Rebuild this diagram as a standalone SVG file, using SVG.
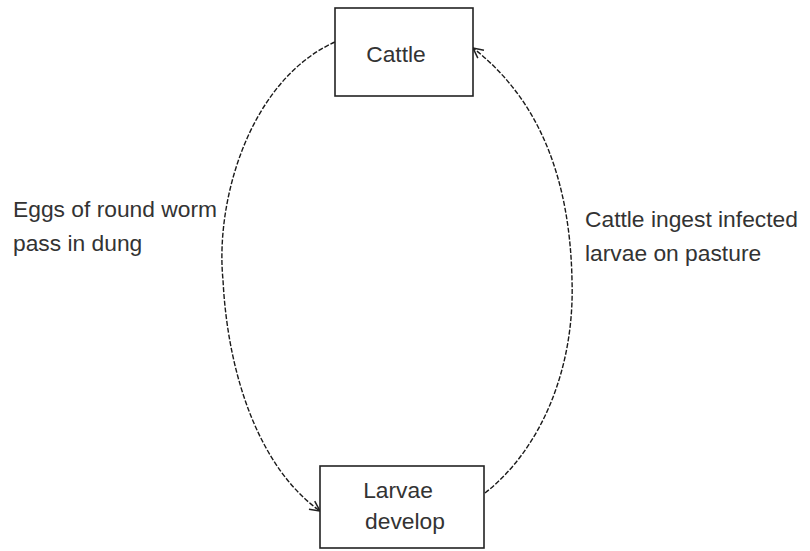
<svg xmlns="http://www.w3.org/2000/svg" width="810" height="551" viewBox="0 0 810 551">
<style>
.box{fill:#fff;stroke:#222;stroke-width:1.6}
.t{font-family:"Liberation Sans",Arial,sans-serif;font-size:22.8px;fill:#333}
.c{fill:none;stroke:#1a1a1a;stroke-width:1.4;stroke-dasharray:5 1.8}
</style>
<defs>
<marker id="ah" viewBox="0 0 12 12" refX="11" refY="6" markerWidth="12" markerHeight="12" markerUnits="userSpaceOnUse" orient="auto">
<path d="M1,1 L11,6 L1,11" fill="none" stroke="#222" stroke-width="1.5"/>
</marker>
</defs>
<rect width="810" height="551" fill="#fff"/>
<g id="connectors">
<path class="c" d="M335,42 C250,80 215,200 223,280 C228,380 262,470 320,511" marker-end="url(#ah)"/>
<path class="c" d="M485,493 C540,450 575,370 572,280 C570,180 540,100 473,48" marker-end="url(#ah)"/>
</g>
<g id="cattle">
<rect class="box" x="335" y="8" width="138" height="88"/>
<text class="t" x="396" y="62" text-anchor="middle">Cattle</text>
</g>
<g id="larvae">
<rect class="box" x="320" y="466" width="164" height="82"/>
<text class="t" x="398" y="498" text-anchor="middle">Larvae</text>
<text class="t" x="405" y="529" text-anchor="middle">develop</text>
</g>
<g id="label-left">
<text class="t" x="13" y="217">Eggs of round worm</text>
<text class="t" x="13" y="251">pass in dung</text>
</g>
<g id="label-right">
<text class="t" x="585" y="227">Cattle ingest infected</text>
<text class="t" x="585" y="261">larvae on pasture</text>
</g>
</svg>
